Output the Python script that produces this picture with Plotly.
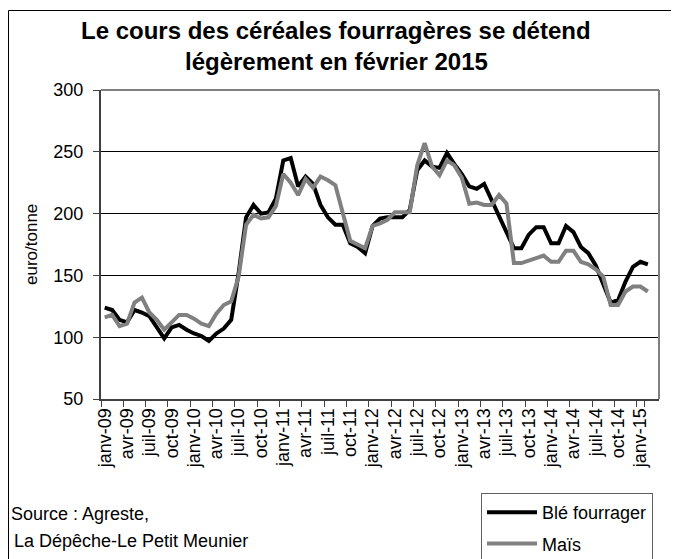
import plotly.graph_objects as go

mois = ["janv", "févr", "mars", "avr", "mai", "juin", "juil", "août", "sept", "oct", "nov", "déc"]
categories = [f"{m}-{y:02d}" for y in range(9, 16) for m in mois][:75]  # janv-09 .. mars-15

ble_fourrager = [124, 122, 114, 112, 122, 120, 117, 108, 99, 108, 110, 106,
                 103, 101, 97, 103, 107, 114, 152, 197, 207, 200, 201, 212,
                 243, 245, 222, 230, 224, 207, 197, 191, 191, 176, 173, 168,
                 190, 196, 197, 197, 197, 203, 235, 243, 238, 237, 249, 240,
                 232, 222, 220, 224, 211, 197, 184, 172, 172, 183, 189, 189,
                 176, 176, 190, 185, 173, 168, 158, 143, 128, 130, 145, 157,
                 161, 159, None]
mais = [116, 118, 109, 111, 128, 132, 120, 114, 106, 112, 118, 118,
        115, 111, 109, 119, 126, 129, 149, 191, 199, 196, 197, 206,
        232, 225, 215, 228, 221, 230, 227, 223, 200, 178, 175, 172,
        190, 192, 195, 201, 201, 201, 239, 257, 238, 231, 243, 239,
        229, 208, 209, 207, 207, 215, 208, 160, 160, 162, 164, 166,
        161, 161, 170, 170, 161, 159, 155, 149, 126, 126, 137, 141,
        141, 137, None]

tick_labels = categories[0:75:3]

font_family = "Arial, 'Liberation Sans', sans-serif"

# page offset (body margin) and plot area geometry in screen pixels
OFF = 8
PL, PT, PW, PH = 101, 90, 558, 309
L, T = PL - OFF, PT - OFF
W, H = 679, 559


def px(x):
    return (x - PL) / PW


def py(y):
    return (PT + PH - y) / PH


fig = go.Figure()
fig.add_trace(go.Scatter(x=categories, y=ble_fourrager, mode="lines", name="Blé fourrager",
                         line=dict(color="#000000", width=4), legendgroup="a"))
fig.add_trace(go.Scatter(x=categories, y=mais, mode="lines", name="Maïs",
                         line=dict(color="#808080", width=4), legendgroup="b"))

fig.update_layout(
    width=W, height=H,
    paper_bgcolor="white", plot_bgcolor="white",
    margin=dict(l=L, r=W - L - PW, t=T, b=H - T - PH, autoexpand=False),
    font=dict(family=font_family, size=17, color="#000000"),
    showlegend=True,
    legend=dict(x=px(481), y=py(493), xanchor="left", yanchor="top",
                bordercolor="#606060", borderwidth=1, bgcolor="white",
                font=dict(size=18), traceorder="grouped", tracegroupgap=5,
                itemwidth=50),
    xaxis=dict(type="category", categoryorder="array", categoryarray=categories,
               range=[-0.5, 74.5], tickmode="array", tickvals=tick_labels, ticktext=tick_labels,
               tickangle=-90, tickson="boundaries", ticks="outside", ticklen=6,
               tickcolor="#404040", showline=True, linecolor="#404040", linewidth=2,
               showgrid=False, tickfont=dict(size=18), automargin=False),
    yaxis=dict(range=[50, 300], dtick=50, tick0=50, ticks="outside", ticklen=6,
               tickcolor="#404040", showline=True, linecolor="#404040", linewidth=2,
               showgrid=True, gridcolor="#000000", gridwidth=1, zeroline=False,
               ticklabelstandoff=6, tickfont=dict(size=18), automargin=False),
    annotations=[
        dict(text="<b>Le cours des céréales fourragères se détend</b>", x=px(336), y=py(30),
             xref="paper", yref="paper", showarrow=False, font=dict(size=24), xanchor="center", yanchor="middle"),
        dict(text="<b>légèrement en février 2015</b>", x=px(336), y=py(62),
             xref="paper", yref="paper", showarrow=False, font=dict(size=24), xanchor="center", yanchor="middle"),
        dict(text="euro/tonne", textangle=-90, x=px(32), y=py(245),
             xref="paper", yref="paper", showarrow=False, font=dict(size=17), xanchor="center", yanchor="middle"),
        dict(text="Source : Agreste,", x=px(9), y=py(514),
             xref="paper", yref="paper", showarrow=False, font=dict(size=18), xanchor="left", yanchor="middle"),
        dict(text="La Dépêche-Le Petit Meunier", x=px(12), y=py(541),
             xref="paper", yref="paper", showarrow=False, font=dict(size=18), xanchor="left", yanchor="middle"),
    ],
    shapes=[
        # plot area border (top and right)
        dict(type="line", xref="paper", yref="paper", x0=0, x1=1, y0=1, y1=1,
             line=dict(color="#808080", width=2)),
        dict(type="line", xref="paper", yref="paper", x0=1, x1=1, y0=0, y1=1,
             line=dict(color="#808080", width=2)),
        # outer chart border
        dict(type="rect", xref="paper", yref="paper", x0=px(8.5), x1=px(720),
             y0=py(640), y1=py(10.5), line=dict(color="#000000", width=1),
             fillcolor="rgba(0,0,0,0)", layer="below"),
    ],
)

fig.write_html("out.html")
